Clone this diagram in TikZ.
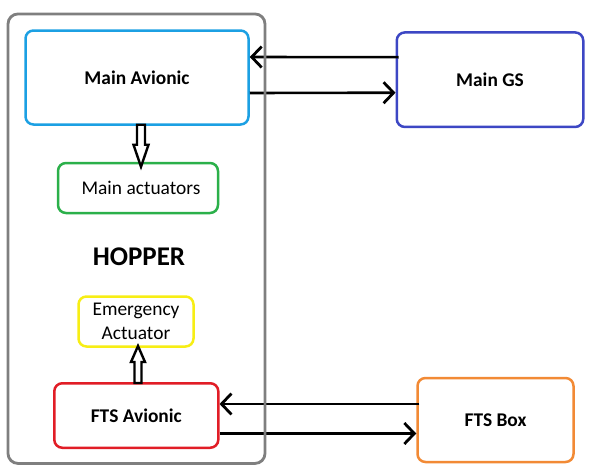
\documentclass[tikz,border=0pt]{standalone}
\usepackage{fontspec}
\setmainfont{Carlito}
\usetikzlibrary{arrows.meta,calc}
\definecolor{cblue}{HTML}{1CA0E3}
\definecolor{cindigo}{HTML}{3D47C4}
\definecolor{cgreen}{HTML}{2BB04A}
\definecolor{cyellow}{HTML}{F7EE14}
\definecolor{cred}{HTML}{E11D26}
\definecolor{corange}{HTML}{F28A35}
\definecolor{cgray}{HTML}{7F7F7F}
\begin{document}
\begin{tikzpicture}[x=1pt,y=-1pt,
  box/.style={draw, rounded corners=8pt, line width=2.5pt, inner sep=0pt, align=center,
              fill=white, font=\fontsize{19.4}{23.5}\selectfont},
  bbox/.style={box, font=\fontsize{19.4}{23.5}\selectfont\bfseries},
  arr/.style={line width=2.6pt, -{Straight Barb[length=10pt,width=21pt,line width=2.8pt]}},
  hollow/.style={draw, line width=2.4pt, fill=white, line join=miter}]
\useasboundingbox (0,0) rectangle (592,471);
% boxes
\node[bbox, draw=cblue, minimum width=223pt, minimum height=94pt] (ma) at (137,77.5) {Main Avionic};
\node[box, draw=cgreen, minimum width=160pt, minimum height=50pt] (act) at (138,188) {\hspace*{6pt}Main actuators};
\node[font=\fontsize{27}{30}\selectfont\bfseries, anchor=base] (hop) at (139,265) {HOPPER};
\node[box, draw=cyellow, minimum width=115pt, minimum height=50pt] (ea) at (136,321.5) {Emergency\\Actuator};
\node[bbox, draw=cred, minimum width=164pt, minimum height=64.5pt] (fa) at (136.3,415.5) {FTS Avionic};
\node[bbox, draw=cindigo, minimum width=186.5pt, minimum height=94.5pt] (gs) at (490,79.7) {Main GS};
\node[bbox, draw=corange, minimum width=156pt, minimum height=84pt] (fb) at (495.5,420) {FTS Box};
% horizontal connectors
\draw[arr] ($(gs.west)+(3,-22.5)$) -- ($(ma.east)+(0,-20.5)$);
\draw[arr] ($(ma.east)+(0,15.5)$) -- ($(gs.west)+(0,13)$);
\draw[arr] ($(fb.west)+(3,-16)$) -- ($(fa.east)+(0,-11.5)$);
\draw[arr] ($(fa.east)+(0,18)$) -- ($(fb.west)+(0,13.5)$);
% hollow arrows
\draw[hollow] ($(ma.south)+(0,-1)$) -- ++(0,20) -- ++(-3.5,0) -- ++(7.5,22) -- ++(7.5,-22)
   -- ++(-3.5,0) -- ++(0,-20) -- cycle;
\draw[hollow] ($(fa.north)+(-1.8,1)$) -- ++(0,-21) -- ++(-3.5,0) -- ++(7,-16) -- ++(7,16)
   -- ++(-3.5,0) -- ++(0,21) -- cycle;
% outer hopper frame (drawn over the connectors)
\node[draw=cgray, line width=2.8pt, rounded corners=10pt, minimum width=257pt,
      minimum height=449.5pt, inner sep=0pt] (frame) at (136.5,238.7) {};
\end{tikzpicture}
\end{document}
